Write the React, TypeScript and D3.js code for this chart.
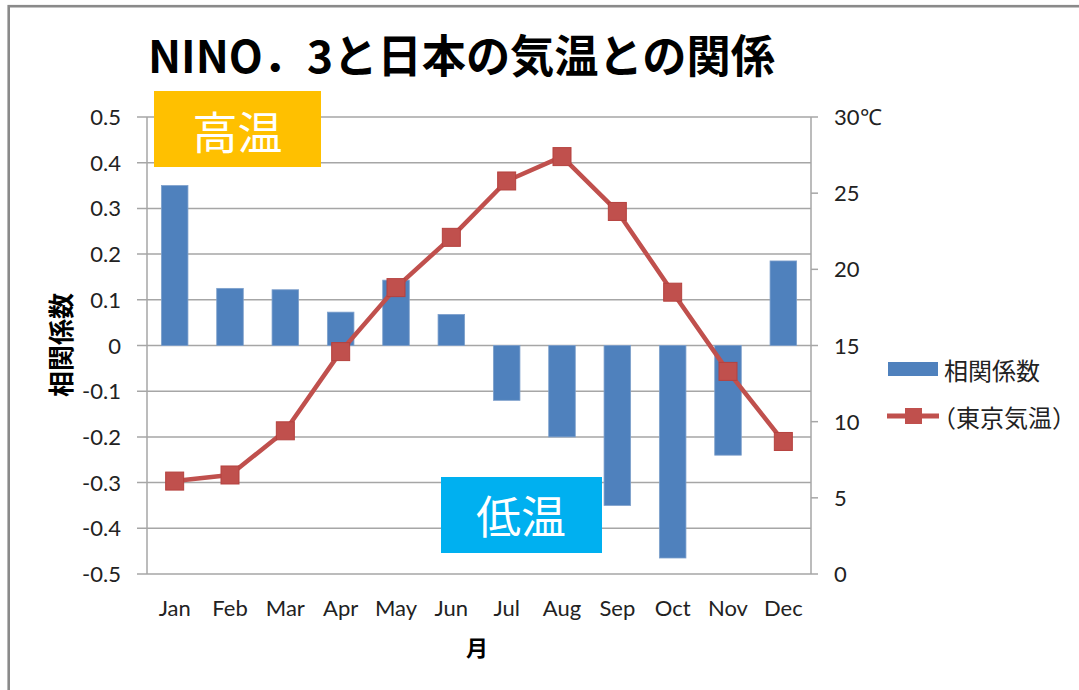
import React from "react";
import * as d3 from "d3";

const months = ["Jan", "Feb", "Mar", "Apr", "May", "Jun", "Jul", "Aug", "Sep", "Oct", "Nov", "Dec"];
const correlation = [0.35, 0.125, 0.122, 0.073, 0.143, 0.068, -0.12, -0.2, -0.35, -0.465, -0.24, 0.185];
const tokyoTemp = [6.1, 6.5, 9.4, 14.6, 18.8, 22.1, 25.8, 27.4, 23.8, 18.5, 13.3, 8.7];
const leftTicks = [0.5, 0.4, 0.3, 0.2, 0.1, 0, -0.1, -0.2, -0.3, -0.4, -0.5];
const rightTicks = [30, 25, 20, 15, 10, 5, 0];

const W = 1079;
const H = 690;
const plotL = 147;
const plotR = 811;
const plotT = 117;
const plotB = 574;

const latin = "Lato, 'Open Sans', sans-serif";
const cjk = "'Noto Sans CJK JP', sans-serif";

const fmtLeft = (t: number) => (t === 0 ? "0" : d3.format(".1f")(t).replace("\u2212", "-"));

export default function App() {
  const x = d3.scaleBand<string>().domain(months).range([plotL, plotR]).paddingInner(0.52).paddingOuter(0.26);
  const yL = d3.scaleLinear().domain([-0.5, 0.5]).range([plotB, plotT]);
  const yR = d3.scaleLinear().domain([0, 30]).range([plotB, plotT]);
  const cx = (m: string) => (x(m) as number) + x.bandwidth() / 2;
  const line = d3
    .line<number>()
    .x((_, i) => cx(months[i]))
    .y((d) => yR(d));
  const grid = "#a6a6a6";
  const red = "#c0504d";
  const ms = 18;

  return (
    <svg
      width={W}
      height={H}
      style={{ position: "absolute", left: 0, top: 0, background: "#fff" }}
    >
      <rect x={0} y={0} width={W} height={H} fill="#fff" />
      <rect x={8.7} y={6.2} width={1300} height={1000} fill="none" stroke="#8a8a8a" strokeWidth={2.6} />

      {/* title */}
      <text
        x={148}
        y={73}
        fontFamily={cjk}
        fontWeight="bold"
        fontSize={45}
        fill="#000"
        textLength={627}
        lengthAdjust="spacingAndGlyphs"
      >
        NINO．3と日本の気温との関係
      </text>

      {/* gridlines + left ticks */}
      {leftTicks.map((t) => (
        <line key={"g" + t} x1={plotL - 10} x2={plotR} y1={yL(t)} y2={yL(t)} stroke={grid} strokeWidth={1.5} />
      ))}
      {/* axes lines */}
      <line x1={plotL} x2={plotL} y1={plotT} y2={plotB} stroke={grid} strokeWidth={1.5} />
      <line x1={plotR} x2={plotR} y1={plotT} y2={plotB} stroke={grid} strokeWidth={1.5} />
      {rightTicks.map((t) => (
        <line key={"r" + t} x1={plotR} x2={plotR + 7} y1={yR(t)} y2={yR(t)} stroke={grid} strokeWidth={1.5} />
      ))}

      {/* left labels */}
      {leftTicks.map((t) => (
        <text key={"l" + t} x={121} y={yL(t) + 8} textAnchor="end" fontFamily={latin} fontSize={22} fill="#222">
          {fmtLeft(t)}
        </text>
      ))}
      {/* right labels */}
      {rightTicks.map((t) => (
        <text key={"rl" + t} x={834} y={yR(t) + 8} fontFamily={latin} fontSize={22} fill="#222">
          {t === 30 ? "30℃" : String(t)}
        </text>
      ))}
      {/* x labels */}
      {months.map((m) => (
        <text key={"x" + m} x={cx(m)} y={616} textAnchor="middle" fontFamily={latin} fontSize={22} fill="#222">
          {m}
        </text>
      ))}

      {/* axis titles */}
      <text
        transform={`translate(59,345) rotate(-90)`}
        textAnchor="middle"
        dominantBaseline="central"
        fontFamily={cjk}
        fontWeight="bold"
        fontSize={26}
        fill="#000"
      >
        相関係数
      </text>
      <text x={477} y={646} textAnchor="middle" dominantBaseline="central" fontFamily={cjk} fontWeight="bold" fontSize={22} fill="#000">
        月
      </text>

      {/* bars */}
      {months.map((m, i) => {
        const v = correlation[i];
        const y0 = yL(0);
        const y1 = yL(v);
        return (
          <rect
            key={"b" + m}
            x={x(m)}
            y={Math.min(y0, y1)}
            width={x.bandwidth()}
            height={Math.abs(y1 - y0)}
            fill="#4f81bd"
            stroke="#7ea0cc"
            strokeWidth={0.8}
          />
        );
      })}

      {/* line */}
      <path d={line(tokyoTemp) || ""} fill="none" stroke={red} strokeWidth={4.5} strokeLinejoin="round" />
      {tokyoTemp.map((t, i) => (
        <rect key={"m" + i} x={cx(months[i]) - ms / 2} y={yR(t) - ms / 2} width={ms} height={ms} fill={red} stroke="#b5413e" strokeWidth={1} />
      ))}

      {/* legend */}
      <rect x={888} y={362} width={50} height={14} fill="#4f81bd" />
      <text x={944} y={369} dominantBaseline="central" fontFamily={cjk} fontSize={24} fill="#222">
        相関係数
      </text>
      <line x1={887} x2={939} y1={416} y2={416} stroke={red} strokeWidth={5} />
      <rect x={905} y={408} width={17} height={16} fill={red} />
      <text x={932} y={416} dominantBaseline="central" fontFamily={cjk} fontSize={24} fill="#222">
        （東京気温）
      </text>

      {/* annotation boxes */}
      <rect x={154} y={91} width={167} height={76} fill="#FFC000" />
      <text x={237.5} y={130} textAnchor="middle" dominantBaseline="central" fontFamily={cjk} fontSize={45} fill="#fff">
        高温
      </text>
      <rect x={441} y={477} width={161} height={76} fill="#00B0F0" />
      <text x={521} y={514} textAnchor="middle" dominantBaseline="central" fontFamily={cjk} fontSize={45} fill="#fff">
        低温
      </text>
    </svg>
  );
}
